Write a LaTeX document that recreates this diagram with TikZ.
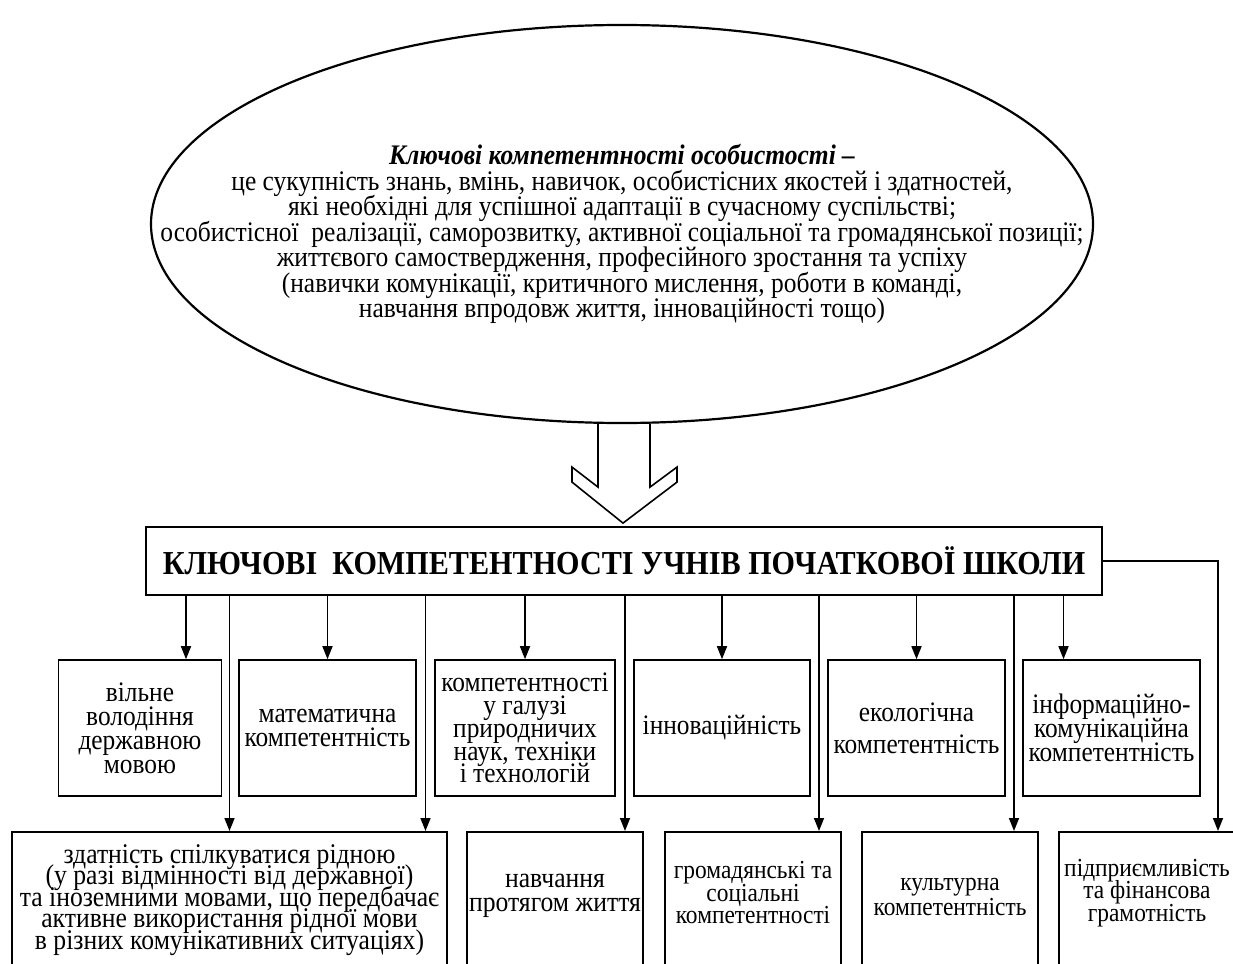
\documentclass[tikz,border=0pt]{standalone}
\usepackage{fontspec}
\setmainfont{Liberation Serif}[FakeStretch=0.9]
\usetikzlibrary{shapes.geometric,arrows.meta}
\newcommand\tightlines{\lineskiplimit=-40pt\relax}

\begin{document}
\begin{tikzpicture}[x=1pt,y=-1pt,
  every node/.style={inner sep=0pt},
  box/.style={draw,line width=1.6pt,align=center,font={\fontsize{28.2}{24}\selectfont\tightlines}},
  lowtext/.style={align=center,font={\fontsize{28.5}{21.5}\selectfont\tightlines}},
  smalltext/.style={align=center,font={\fontsize{26}{22.5}\selectfont\tightlines}},
  arr/.style={line width=1.6pt,-{Triangle[length=13pt,width=10pt]}}]

  \path[use as bounding box,clip] (0,0) rectangle (1233,963);

  % definition in the ellipse
  \node[draw,ellipse,line width=2.2pt,minimum width=942pt,minimum height=398pt] (ell) at (622,224) {};
  \node[align=center,font={\fontsize{28.3}{25.5}\selectfont\tightlines}] (def) at (622,234)
    {\textbf{\textit{Ключові компетентності особистості –}}\\
     це сукупність знань, вмінь, навичок, особистісних якостей і здатностей,\\
     які необхідні для успішної адаптації в сучасному суспільстві;\\
     особистісної\ \ реалізації, саморозвитку, активної соціальної та громадянської позиції;\\
     життєвого самоствердження, професійного зростання та успіху\\
     (навички комунікації, критичного мислення, роботи в команді,\\
     навчання впродовж життя, інноваційності тощо)};

  % block arrow
  \draw[line width=1.6pt,line join=miter] ([xshift=-24pt]ell.south) -- ++(0,63) -- ++(-26,-20)
    -- ++(0,15) -- ++(51,41) -- ++(54,-41) -- ++(0,-15) -- ++(-27,20) -- ++(0,-63);

  \node[box,font=\bfseries\fontsize{33.5}{33}\selectfont,minimum width=956pt,minimum height=68pt] (title)
    at (624,561) {КЛЮЧОВІ\ \ КОМПЕТЕНТНОСТІ УЧНІВ ПОЧАТКОВОЇ ШКОЛИ};

  % first row
  \node[box,minimum width=163pt,minimum height=136pt] (top1) at (140,728) {вільне\\володіння\\державною\\мовою};
  \node[box,minimum width=177pt,minimum height=136pt] (top2) at (327.5,728) {математична\\компетентність};
  \node[box,font={\fontsize{28.2}{22.8}\selectfont\tightlines},minimum width=180pt,minimum height=136pt] (top3)
    at (525,728) {компетентності\\у галузі\\природничих\\наук, техніки\\і технологій};
  \node[box,minimum width=176pt,minimum height=136pt] (top4) at (722,728) {інноваційність};
  \node[box,minimum width=177pt,minimum height=136pt] (top5) at (916.5,728) {екологічна\\[8pt]компетентність};
  \node[box,minimum width=177pt,minimum height=136pt] (top6) at (1111.5,728) {інформаційно-\\комунікаційна\\компетентність};

  % second row
  \node[box,anchor=north,minimum width=435pt,minimum height=170pt] (low1) at (229.5,831) {};
  \node[box,anchor=north,minimum width=176pt,minimum height=170pt] (low2) at (555,831) {};
  \node[box,anchor=north,minimum width=176pt,minimum height=170pt] (low3) at (753,831) {};
  \node[box,anchor=north,minimum width=176pt,minimum height=170pt] (low4) at (950,831) {};
  \node[box,anchor=north,minimum width=176pt,minimum height=170pt] (low5) at (1147,831) {};

  \node[lowtext] (txt1) at (low1.north |- 0,900) {здатність спілкуватися рідною\\(у разі відмінності від державної)\\та іноземними мовами, що передбачає\\активне використання рідної мови\\в різних комунікативних ситуаціях)};
  \node[lowtext] (txt2) at (low2.north |- 0,896) {навчання\\[2pt]протягом життя};
  \node[smalltext] (txt3) at (low3.north |- 0,893) {громадянські та\\соціальні\\компетентності};
  \node[smalltext] (txt4) at (low4.north |- 0,897) {культурна\\[3pt]компетентність};
  \node[smalltext] (txt5) at (low5.north |- 0,893) {підприємливість\\та фінансова\\грамотність};

  \path[arr]
    ([xshift=46pt]top1.north |- title.south) edge ([xshift=46pt]top1.north)
    (title.south -| top2.north) edge (top2.north)
    (title.south -| top3.north) edge (top3.north)
    (title.south -| top4.north) edge (top4.north)
    (title.south -| top5.north) edge (top5.north)
    ([xshift=-48pt]top6.north |- title.south) edge ([xshift=-48pt]top6.north)
    (title.south -| low1.north) edge (low1.north)
    ([xshift=196pt]low1.north |- title.south) edge ([xshift=196pt]low1.north)
    ([xshift=70pt]low2.north |- title.south) edge ([xshift=70pt]low2.north)
    ([xshift=66pt]low3.north |- title.south) edge ([xshift=66pt]low3.north)
    ([xshift=64pt]low4.north |- title.south) edge ([xshift=64pt]low4.north);
  \draw[arr] (title.east) -| ([xshift=71pt]low5.north);
\end{tikzpicture}
\end{document}
